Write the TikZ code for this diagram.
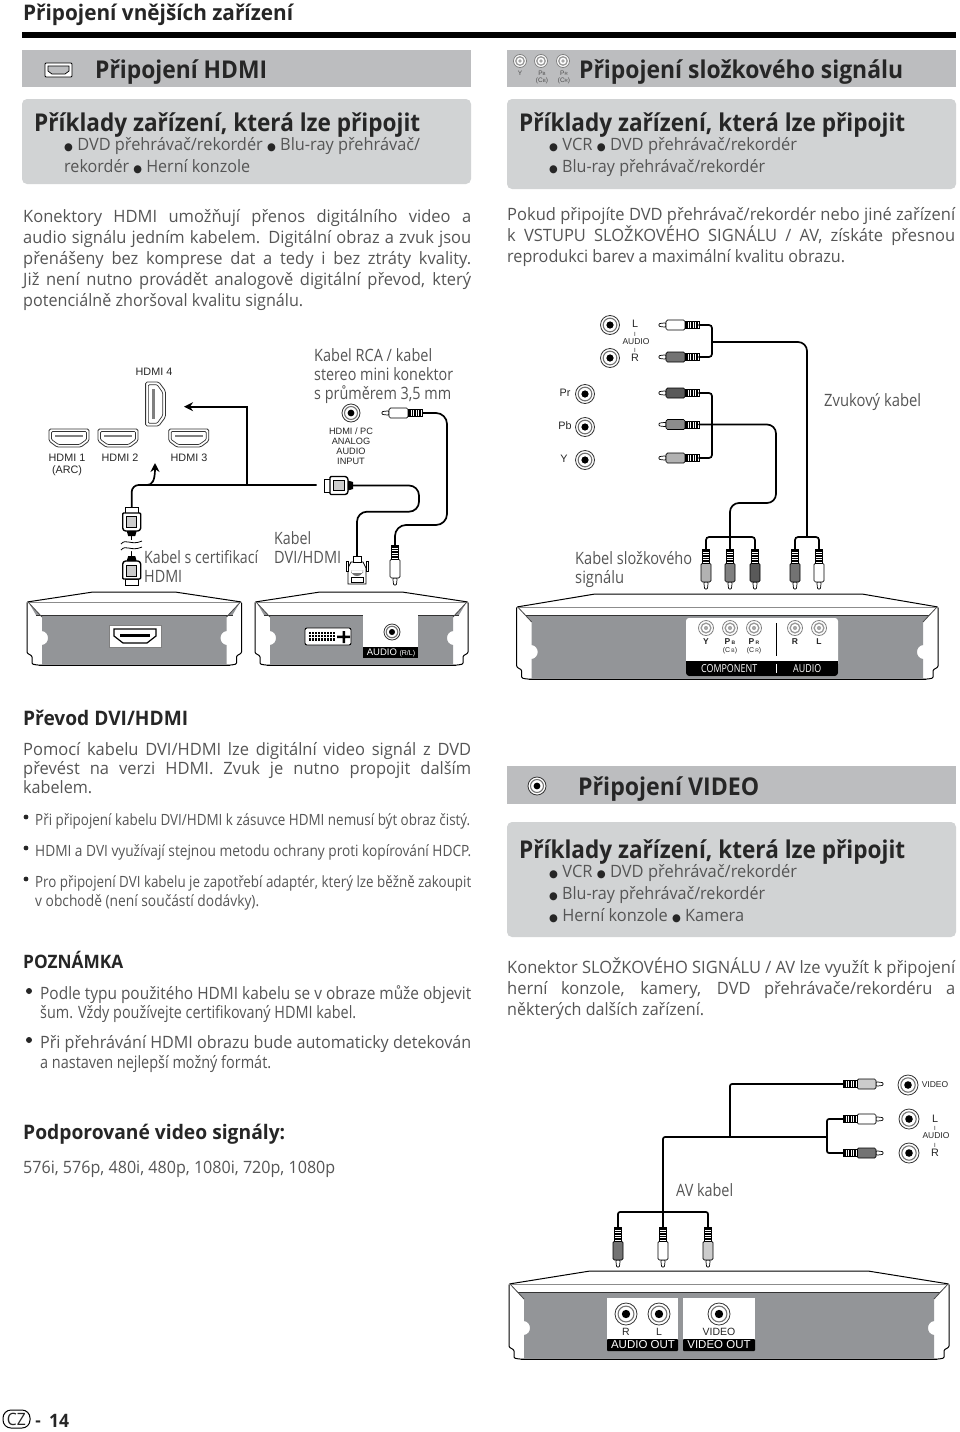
\documentclass[tikz,border=0pt]{standalone}
\usepackage{fontspec,graphicx}
\usetikzlibrary{arrows.meta}
\setmainfont{Open Sans}
\newfontfamily\af{Liberation Sans}
\newfontfamily\symf{DejaVu Sans}
\newfontfamily\narrowf[FakeStretch=0.97]{Open Sans}
\definecolor{bodyc}{HTML}{555555}
\definecolor{headc}{HTML}{262626}
\definecolor{bandc}{HTML}{BCBDBF}
\definecolor{boxc}{HTML}{D1D3D4}
\definecolor{devc}{HTML}{939598}
\newcount\tlinecnt
\newcommand\tline[6]{\global\advance\tlinecnt by 1\relax
 \node[anchor=base west,inner sep=0pt,text=#2] (tl\the\tlinecnt) at (#3,{#4+.4*#1}) {\fontsize{#1pt}{#1pt}\selectfont\resizebox{#5pt}{\height}{#6}};}
\newcommand\bd[4]{\tline{17}{bodyc}{#1}{#2}{#3}{#4}}
\newcommand\bj[4]{\global\advance\tlinecnt by 1\relax
 \node[anchor=base west,inner sep=0pt,text=bodyc] (tl\the\tlinecnt) at (#1,{#2+.4*17}) {\narrowf\fontsize{17pt}{17pt}\selectfont\makebox[#3pt][s]{#4}};}
\newcommand\hb[4]{\tline{24.5}{headc}{#1}{#2}{#3}{\bfseries #4}}
\newcommand\hc[4]{\tline{20}{headc}{#1}{#2}{#3}{\bfseries #4}}
\newcommand\bu{\raisebox{.6pt}{\symf\fontsize{10.5pt}{10.5pt}\selectfont\textcolor{headc}{●}}}
\newcommand\dev[9]{%x1 x2 tx1 tx2 ytop yS yB ybot ny
 \draw[line width=1,fill=white,rounded corners=1] (#1,#6)--(#3,#5)--(#4,#5)--(#2,#6)--(#2,#8-12)--(#2-5,#8-9)--(#2-5,#8-1)--(#2-10,#8)--(#1+10,#8)--(#1+5,#8-1)--(#1+5,#8-9)--(#1,#8-12)--cycle;
 \draw[line width=.6,black!45] (#1,#6)--(#2,#6);
 \fill[devc] (#1+2,#6+1)--(#1+9,#7)--(#2-9,#7)--(#2-2,#6+1)--(#2-15,#6+15)--(#2-15,#9-7) .. controls (#2-23,#9-6) and (#2-23,#9+6) .. (#2-15,#9+7)--(#2-15,#8-.5)--(#1+15,#8-.5)--(#1+15,#9+7) .. controls (#1+23,#9+6) and (#1+23,#9-6) .. (#1+15,#9-7)--(#1+15,#6+15)--cycle;
 \draw[line width=1,black!80] (#1+9,#7)--(#2-9,#7);
 \draw[line width=.8,black!70] (#1+1,#6)--(#1+15,#6+15) (#2-1,#6)--(#2-15,#6+15);
 \draw[line width=1] (#1+12,#8)--(#2-12,#8);
}
\tikzset{
 wire/.style={line width=1.7,line cap=round,rounded corners=#1},
 wire/.default=3,
 lab/.style={font=\af\fontsize{10.8pt}{10.8pt}\selectfont,inner sep=0pt,text=black!85},
 labw/.style={font=\af\fontsize{10.5pt}{10.5pt}\selectfont,inner sep=0pt,text=white},
 pics/rcaplug/.style={code={
  \draw[fill=white,line width=.7,rounded corners=.8] (0,-1.4)--(7,-2.2)--(7,2.2)--(0,1.4)--cycle;
  \draw[fill=#1,line width=.7,rounded corners=1.5] (7,-5) rectangle (26,5);
  \draw[fill=white,line width=.7] (26,-3.6) rectangle (40,3.6);
  \foreach \q in {28,30.5,33,35.5,38} \draw[line width=1.2] (\q,-3.6)--(\q,3.6);
  \coordinate (-w) at (40,0);
 }},
 pics/hdmiplug/.style={code={
  \draw[fill=white,line width=1] (0,-6.5) rectangle (6,6.5);
  \draw[fill=white,line width=1.4,rounded corners=1] (6,-9)--(22,-9)--(24,-7)--(24,7)--(22,9)--(6,9)--cycle;
  \draw[fill=black!20,line width=.6] (9,-5) rectangle (20,5);
  \fill[black] (24,-5)--(29,-3.5)--(29,3.5)--(24,5)--cycle;
  \coordinate (-w) at (29,0);
 }},
 pics/dviplug/.style={code={
  \draw[fill=white,line width=.8] (-9,-1)--(9,-1)--(9,-17)--(6,-23)--(-6,-23)--(-9,-17)--cycle;
  \fill[black!55] (-6,-12) rectangle (6,-15) (-6,-15) arc[start angle=180,end angle=0,radius=6];
  \draw[line width=.6] (-6,-8) rectangle (6,-3);
  \draw[fill=white,line width=.7] (-11,-24) rectangle (-9,-14) (11,-24) rectangle (9,-14);
  \draw[fill=white,line width=.7] (-4,-29) rectangle (4,-23);
  \coordinate (-w) at (0,-29);
 }},
 pics/sock/.style={code={
  \draw[fill=white,line width=.8,draw=black!80] (0,0) circle[radius=#1];
  \draw[fill=white,line width=1.1,draw=black!55] (0,0) circle[radius=#1*.72];
  \fill[black] (0,0) circle[radius=#1*.38];
 }},
 pics/socklt/.style={code={
  \draw[fill=white,line width=.8,draw=black!50] (0,0) circle[radius=#1];
  \draw[fill=white,line width=1.3,draw=black!40] (0,0) circle[radius=#1*.65];
  \fill[black!35] (0,0) circle[radius=#1*.28];
 }},
 pics/hdmisock/.style={code={
  \draw[fill=white,line width=.8,rounded corners=1.5,draw=black!80] (-20,-9)--(20,-9)--(20,3)--(12,9)--(-12,9)--(-20,3)--cycle;
  \draw[fill=white,line width=.7,rounded corners=1,draw=black!80] (-17.5,-6.5)--(17.5,-6.5)--(17.5,1.5)--(10.5,6.5)--(-10.5,6.5)--(-17.5,1.5)--cycle;
  \fill[black!50] (-14,-3) rectangle (14,-.8);
 }},
}
\begin{document}
\begin{tikzpicture}[x=1pt,y=-1pt]
\useasboundingbox[fill=white] (0,0) rectangle (960,1432);
% --- page heads and bands
\tline{21.5}{headc}{23}{12}{270}{\bfseries Připojení vnějších zařízení}
\fill[black] (22,32) rectangle (956,38);
\fill[bandc] (22,50) rectangle (471,87);
\fill[bandc] (507,50) rectangle (956,87);
\fill[boxc,rounded corners=5] (22,99) rectangle (471,184);
\fill[boxc,rounded corners=5] (507,99) rectangle (956,189);
% HDMI icon
\draw[fill=white,line width=.8,rounded corners=1] (45,63) rectangle (72,77);
\draw[fill=bandc,line width=.7] (48,66)--(69,66)--(69,71)--(65,74)--(52,74)--(48,71)--cycle;
\tline{24.5}{headc}{95}{69}{172}{\bfseries Připojení HDMI}
\tline{24.5}{headc}{579}{69}{324}{\bfseries Připojení složkového signálu}
% component icon
\pic (ic1) at (520,61) {socklt=6.5};
\pic (ic2) at (541,61) {socklt=6.5};
\pic (ic3) at (563,61) {socklt=6.5};
\node[font=\af\fontsize{6.5pt}{6.5pt}\selectfont,inner sep=0pt,text=black!70] (icy) at (520,73) {Y};
\node[font=\af\fontsize{6.5pt}{6.5pt}\selectfont,inner sep=0pt,text=black!70] (icb) at (542,73) {P{\fontsize{4.5pt}{4.5pt}\selectfont B}};
\node[font=\af\fontsize{6.5pt}{6.5pt}\selectfont,inner sep=0pt,text=black!70] (icc) at (542,81) {(C{\fontsize{4.5pt}{4.5pt}\selectfont B})};
\node[font=\af\fontsize{6.5pt}{6.5pt}\selectfont,inner sep=0pt,text=black!70] (icr) at (564,73) {P{\fontsize{4.5pt}{4.5pt}\selectfont R}};
\node[font=\af\fontsize{6.5pt}{6.5pt}\selectfont,inner sep=0pt,text=black!70] (icd) at (564,81) {(C{\fontsize{4.5pt}{4.5pt}\selectfont R})};
\hb{34}{122}{386}{Příklady zařízení, která lze připojit}
\bd{64}{144}{356}{\bu\ DVD přehrávač/rekordér \bu\ Blu-ray přehrávač/}
\bd{64}{166}{186}{rekordér \bu\ Herní konzole}
\hb{519}{122}{386}{Příklady zařízení, která lze připojit}
\bd{549}{144}{248}{\bu\ VCR \bu\ DVD přehrávač/rekordér}
\bd{549}{166}{216}{\bu\ Blu-ray přehrávač/rekordér}
% paragraphs
\bj{23}{216}{448}{Konektory HDMI umožňují přenos digitálního video a}
\bj{23}{237}{448}{audio signálu jedním kabelem. Digitální obraz a zvuk jsou}
\bj{23}{258}{448}{přenášeny bez komprese dat a tedy i bez ztráty kvality.}
\bj{23}{279}{448}{Již není nutno provádět analogově digitální převod, který}
\bd{23}{300}{280}{potenciálně zhoršoval kvalitu signálu.}
\bj{507}{214}{448}{Pokud připojíte DVD přehrávač/rekordér nebo jiné zařízení}
\bj{507}{235}{448}{k VSTUPU SLOŽKOVÉHO SIGNÁLU / AV, získáte přesnou}
\bd{507}{256}{338}{reprodukci barev a maximální kvalitu obrazu.}
% --- HDMI diagram
\dev{27}{241.5}{93}{175}{592}{602}{615}{665}{638}
\dev{255}{468}{320}{402}{592}{602}{615}{665}{638}
\draw[fill=white,draw=black!50,line width=.7] (109,625) rectangle (161,647);
\draw[line width=1.2] (114,629)--(156,629)--(156,636)--(147,643)--(123,643)--(114,636)--cycle;
\fill[black] (120,633.5) rectangle (150,636.5);
\draw[fill=white,line width=.9,rounded corners=2] (305,628) rectangle (351,645);
\foreach \i in {0,...,8} \foreach \j in {0,1,2} \fill[black] (309+\i*3,632+\j*3.2) rectangle +(2,2.2);
\fill[black] (337,635.5) rectangle (350,638) (342.5,631) rectangle (345,643);
\fill[white] (363,614) rectangle (418,647);
\fill[black] (363,647) rectangle (418,658);
\pic (as) at (392,632) {sock=8};
\node[labw,font=\af\fontsize{9.5pt}{9.5pt}\selectfont] (ast) at (391,653) {AUDIO {\fontsize{7pt}{7pt}\selectfont(R/L)}};
\pic[rotate=90,scale=1.1] (h4) at (155.5,404) {hdmisock};
\pic (h1) at (69,438) {hdmisock};
\pic (h2) at (118,438) {hdmisock};
\pic (h3) at (188.7,438) {hdmisock};
\node[lab] (l4) at (154,372) {HDMI 4};
\node[lab] (l1) at (67,458) {HDMI 1};
\node[lab] (l1b) at (67,471) {(ARC)};
\node[lab] (l2) at (120,458) {HDMI 2};
\node[lab] (l3) at (189,458) {HDMI 3};
\pic[rotate=-90] (pt) at (131.7,507) {hdmiplug};
\pic[rotate=90] (pb) at (131.7,585) {hdmiplug};
\pic[rotate=0] (ph) at (324,485.5) {hdmiplug};
\pic (pd) at (357,585) {dviplug};
\pic[rotate=90] (pm) at (395,585) {rcaplug=white};
\pic (pn) at (382,413) {rcaplug=white};
\pic (ps) at (351,413) {sock=9};
\node[lab,font=\af\fontsize{9.2pt}{9.2pt}\selectfont] (sl1) at (351,431) {HDMI / PC};
\node[lab,font=\af\fontsize{9.2pt}{9.2pt}\selectfont] (sl2) at (351,441) {ANALOG};
\node[lab,font=\af\fontsize{9.2pt}{9.2pt}\selectfont] (sl3) at (351,451) {AUDIO};
\node[lab,font=\af\fontsize{9.2pt}{9.2pt}\selectfont] (sl4) at (351,461) {INPUT};
% cables
\coordinate (hl) at (316.7,485);
\coordinate (hb) at (246.7,485);
\coordinate (harr) at (184,406.7);
\coordinate (hup) at (155,463);
\coordinate (hj) at (143,485);
\draw[line width=1.7,rounded corners=7] (131.7,507)--(131.7,485)--(hl);
\draw[line width=1.7,-{Stealth[length=9pt,width=9pt]}] (hj)--(147,485) .. controls (152,485) and (155,481) .. (hup);
\draw[line width=1.7,-{Stealth[length=9pt,width=9pt]}] (hb)--(hb |- harr)--(harr);
\draw[line width=1.7,rounded corners=10] (ph-w)--(419,485.5)--(419,511.7)--(357,511.7)--(pd-w);
\draw[line width=1.7,rounded corners=11] (pn-w)--(447,413)--(447,525)--(395,525)--(pm-w);
\draw[line width=1.5] (pt-w)--(pb-w);
\draw[fill=white,draw=none] (120,541)--(144,539)--(144,550)--(120,552)--cycle;
\draw[line width=.8] (121,544) .. controls (126,538) and (131,546) .. (142,541)
 (121,550) .. controls (126,544) and (131,552) .. (142,547);
\bd{314}{355}{118}{Kabel RCA / kabel}
\bd{314}{374}{139}{stereo mini konektor}
\bd{314}{393}{137}{s průměrem 3,5 mm}
\bd{144}{557}{114}{Kabel s certifikací}
\bd{144}{576}{38}{HDMI}
\bd{274}{538}{37}{Kabel}
\bd{274}{557}{67}{DVI/HDMI}
% --- component diagram
\dev{516.7}{938}{595}{862}{594}{607}{615}{679}{652}
\fill[white,rounded corners=3] (686,618) rectangle (838,676);
\fill[black,rounded corners=3] (686,661) rectangle (838,676);
\fill[black] (686,661) rectangle (838,668);
\draw[line width=.8] (776,623)--(776,656);
\draw[line width=.8,white] (776,664)--(776,673);
\foreach \nm/\xx in {d1/706,d2/730,d3/754,d4/795,d5/819} \pic (\nm) at (\xx,628) {socklt=7.5};
\node[lab,font=\af\bfseries\fontsize{8.5pt}{8.5pt}\selectfont] (dy) at (706,642) {Y};
\node[lab,font=\af\bfseries\fontsize{8.5pt}{8.5pt}\selectfont] (dpb) at (730,642) {P\,{\fontsize{5pt}{5pt}\selectfont B}};
\node[lab,font=\af\fontsize{7pt}{7pt}\selectfont] (dcb) at (730,651) {(C\,{\fontsize{5pt}{5pt}\selectfont B})};
\node[lab,font=\af\bfseries\fontsize{8.5pt}{8.5pt}\selectfont] (dpr) at (754,642) {P\,{\fontsize{5pt}{5pt}\selectfont R}};
\node[lab,font=\af\fontsize{7pt}{7pt}\selectfont] (dcb2) at (754,651) {(C\,{\fontsize{5pt}{5pt}\selectfont R})};
\node[lab,font=\af\bfseries\fontsize{8.5pt}{8.5pt}\selectfont] (dr) at (795,642) {R};
\node[lab,font=\af\bfseries\fontsize{8.5pt}{8.5pt}\selectfont] (dl) at (819,642) {L};
\tline{11}{white}{701}{668}{56}{COMPONENT}
\tline{11}{white}{793}{668}{28}{AUDIO}
\pic (s1) at (610,325) {sock=9.5};
\pic (s2) at (610,358) {sock=9.5};
\pic (s3) at (585,394) {sock=9.5};
\pic (s4) at (585,427) {sock=9.5};
\pic (s5) at (585,460) {sock=9.5};
\node[lab] (t1) at (635,324) {L};
\node[lab,font=\af\fontsize{6pt}{6pt}\selectfont] (t2) at (635,334) {I};
\node[lab,font=\af\fontsize{8.5pt}{8.5pt}\selectfont] (t3) at (636,342) {AUDIO};
\node[lab,font=\af\fontsize{6pt}{6pt}\selectfont] (t4) at (635,350) {I};
\node[lab] (t5) at (635,358) {R};
\node[lab] (t6) at (565,393) {Pr};
\node[lab] (t7) at (565,426) {Pb};
\node[lab] (t8) at (564,459) {Y};
\pic (c1) at (659,325) {rcaplug=white};
\pic (c2) at (659,357) {rcaplug=black!55};
\pic (c3) at (659,393) {rcaplug=black!65};
\pic (c4) at (659,424.5) {rcaplug=black!45};
\pic (c5) at (659,458) {rcaplug=black!30};
\pic[rotate=90] (v1) at (706,589) {rcaplug=black!30};
\pic[rotate=90] (v2) at (730,589) {rcaplug=black!50};
\pic[rotate=90] (v3) at (755,589) {rcaplug=black!65};
\pic[rotate=90] (v4) at (795,589) {rcaplug=black!55};
\pic[rotate=90] (v5) at (819,589) {rcaplug=white};
\coordinate (aj) at (712,342);
\coordinate (bj) at (807,537);
\coordinate (cj) at (730,537);
\draw[wire] (c1-w)--(712,325)--(712,357)--(c2-w);
\draw[wire=9] (aj)--(807,342)--(bj);
\draw[wire] (v4-w)--(795,537)--(819,537)--(v5-w);
\draw[wire] (c3-w)--(712,393)--(712,458)--(c5-w);
\draw[wire=9] (c4-w)--(776,424.5)--(776,503)--(730,503)--(cj);
\draw[wire] (v1-w)--(706,537)--(755,537)--(v3-w);
\draw[wire] (cj)--(v2-w);
\bd{824}{400}{97}{Zvukový kabel}
\bd{575}{558}{117}{Kabel složkového}
\bd{575}{577}{49}{signálu}
% --- DVI text
\hc{23}{717}{165}{Převod DVI/HDMI}
\bj{23}{749}{448}{Pomocí kabelu DVI/HDMI lze digitální video signál z DVD}
\bj{23}{768}{448}{převést na verzi HDMI. Zvuk je nutno propojit dalším}
\bd{23}{787}{69}{kabelem.}
\fill[headc] (26,817) circle[radius=2.4] (26,848) circle[radius=2.4] (26,879) circle[radius=2.4];
\tline{15.5}{bodyc}{35}{819}{435}{Při připojení kabelu DVI/HDMI k zásuvce HDMI nemusí být obraz čistý.}
\tline{15.5}{bodyc}{35}{850}{436}{HDMI a DVI využívají stejnou metodu ochrany proti kopírování HDCP.}
\tline{15.5}{bodyc}{35}{881}{436}{Pro připojení DVI kabelu je zapotřebí adaptér, který lze běžně zakoupit}
\tline{15.5}{bodyc}{35}{900}{224}{v obchodě (není součástí dodávky).}
\tline{18.5}{headc}{23}{961}{100}{\bfseries POZNÁMKA}
\fill[headc] (29,991) circle[radius=3] (29,1040) circle[radius=3];
\bd{40}{993}{431}{Podle typu použitého HDMI kabelu se v obraze může objevit}
\bd{40}{1012}{316}{šum. Vždy používejte certifikovaný HDMI kabel.}
\bd{40}{1042}{431}{Při přehrávání HDMI obrazu bude automaticky detekován}
\bd{40}{1062}{231}{a nastaven nejlepší možný formát.}
\hc{23}{1131}{262}{Podporované video signály:}
\bd{23}{1167}{312}{576i, 576p, 480i, 480p, 1080i, 720p, 1080p}
% --- VIDEO
\fill[bandc] (507,766) rectangle (956,804);
\fill[boxc,rounded corners=5] (507,822) rectangle (956,937);
\pic (vi) at (537,786) {sock=9};
\tline{24.5}{headc}{578}{786}{181}{\bfseries Připojení VIDEO}
\hb{519}{849}{386}{Příklady zařízení, která lze připojit}
\bd{549}{871}{248}{\bu\ VCR \bu\ DVD přehrávač/rekordér}
\bd{549}{893}{216}{\bu\ Blu-ray přehrávač/rekordér}
\bd{549}{915}{195}{\bu\ Herní konzole \bu\ Kamera}
\bj{507}{967}{448}{Konektor SLOŽKOVÉHO SIGNÁLU / AV lze využít k připojení}
\bj{507}{988}{448}{herní konzole, kamery, DVD přehrávače/rekordéru a}
\bd{507}{1009}{197}{některých dalších zařízení.}
% --- AV diagram
\dev{509}{949}{590}{868}{1271}{1284}{1292}{1359}{1328}
\fill[white] (607,1298) rectangle (678,1339);
\fill[black,rounded corners=1] (607,1339) rectangle (678,1351);
\fill[white] (683,1298) rectangle (755,1339);
\fill[black,rounded corners=1] (683,1339) rectangle (755,1351);
\pic (o1) at (626,1314) {sock=11};
\pic (o2) at (659,1314) {sock=11};
\pic (o3) at (719,1314) {sock=11};
\node[lab,font=\af\fontsize{10.5pt}{10.5pt}\selectfont] (ol1) at (626,1332) {R};
\node[lab,font=\af\fontsize{10.5pt}{10.5pt}\selectfont] (ol2) at (659,1332) {L};
\node[lab,font=\af\fontsize{10.5pt}{10.5pt}\selectfont] (ol3) at (719,1332) {VIDEO};
\node[labw,font=\af\fontsize{11.5pt}{11.5pt}\selectfont] (ol4) at (643,1345) {AUDIO OUT};
\node[labw,font=\af\fontsize{11.5pt}{11.5pt}\selectfont] (ol5) at (719,1345) {VIDEO OUT};
\pic (r1) at (908,1085) {sock=10};
\pic (r2) at (909,1119) {sock=10};
\pic (r3) at (909,1153) {sock=10};
\node[lab,font=\af\fontsize{8.5pt}{8.5pt}\selectfont] (rl1) at (935,1085) {VIDEO};
\node[lab] (rl2) at (935,1119) {L};
\node[lab,font=\af\fontsize{6pt}{6pt}\selectfont] (rl3) at (935,1128) {I};
\node[lab,font=\af\fontsize{8.5pt}{8.5pt}\selectfont] (rl4) at (936,1136) {AUDIO};
\node[lab,font=\af\fontsize{6pt}{6pt}\selectfont] (rl5) at (935,1145) {I};
\node[lab] (rl6) at (935,1153) {R};
\pic[rotate=180] (a1) at (883,1084) {rcaplug=black!20};
\pic[rotate=180] (a2) at (883,1119) {rcaplug=white};
\pic[rotate=180] (a3) at (883,1153) {rcaplug=black!55};
\pic[rotate=90] (b1) at (618,1267) {rcaplug=black!55};
\pic[rotate=90] (b2) at (663,1267) {rcaplug=white};
\pic[rotate=90] (b3) at (708,1267) {rcaplug=black!20};
\coordinate (mj) at (827,1137);
\coordinate (mk) at (730,1137);
\coordinate (ml) at (663,1212);
\draw[wire=2] (a1-w)--(730,1084)--(mk);
\draw[wire=2] (a2-w)--(827,1119)--(827,1153)--(a3-w);
\draw[wire=2] (mj)--(663,1137)--(ml);
\draw[wire=2] (b1-w)--(618,1212)--(708,1212)--(b3-w);
\draw[wire=2] (ml)--(b2-w);
\bd{676}{1190}{57}{AV kabel}
% --- footer
\draw[line width=1,rounded corners=8] (3,1410) rectangle (30,1428);
\node[anchor=center,inner sep=0pt,text=headc] (cz) at (16.5,1419) {\fontsize{17pt}{17pt}\selectfont\resizebox{19pt}{\height}{CZ}};
\node[anchor=base,font=\bfseries\fontsize{17pt}{17pt}\selectfont,inner sep=0pt,text=headc] (dash) at (38,1426) {-};
\tline{18.5}{headc}{49}{1420}{20}{\bfseries 14}
\end{tikzpicture}
\end{document}
